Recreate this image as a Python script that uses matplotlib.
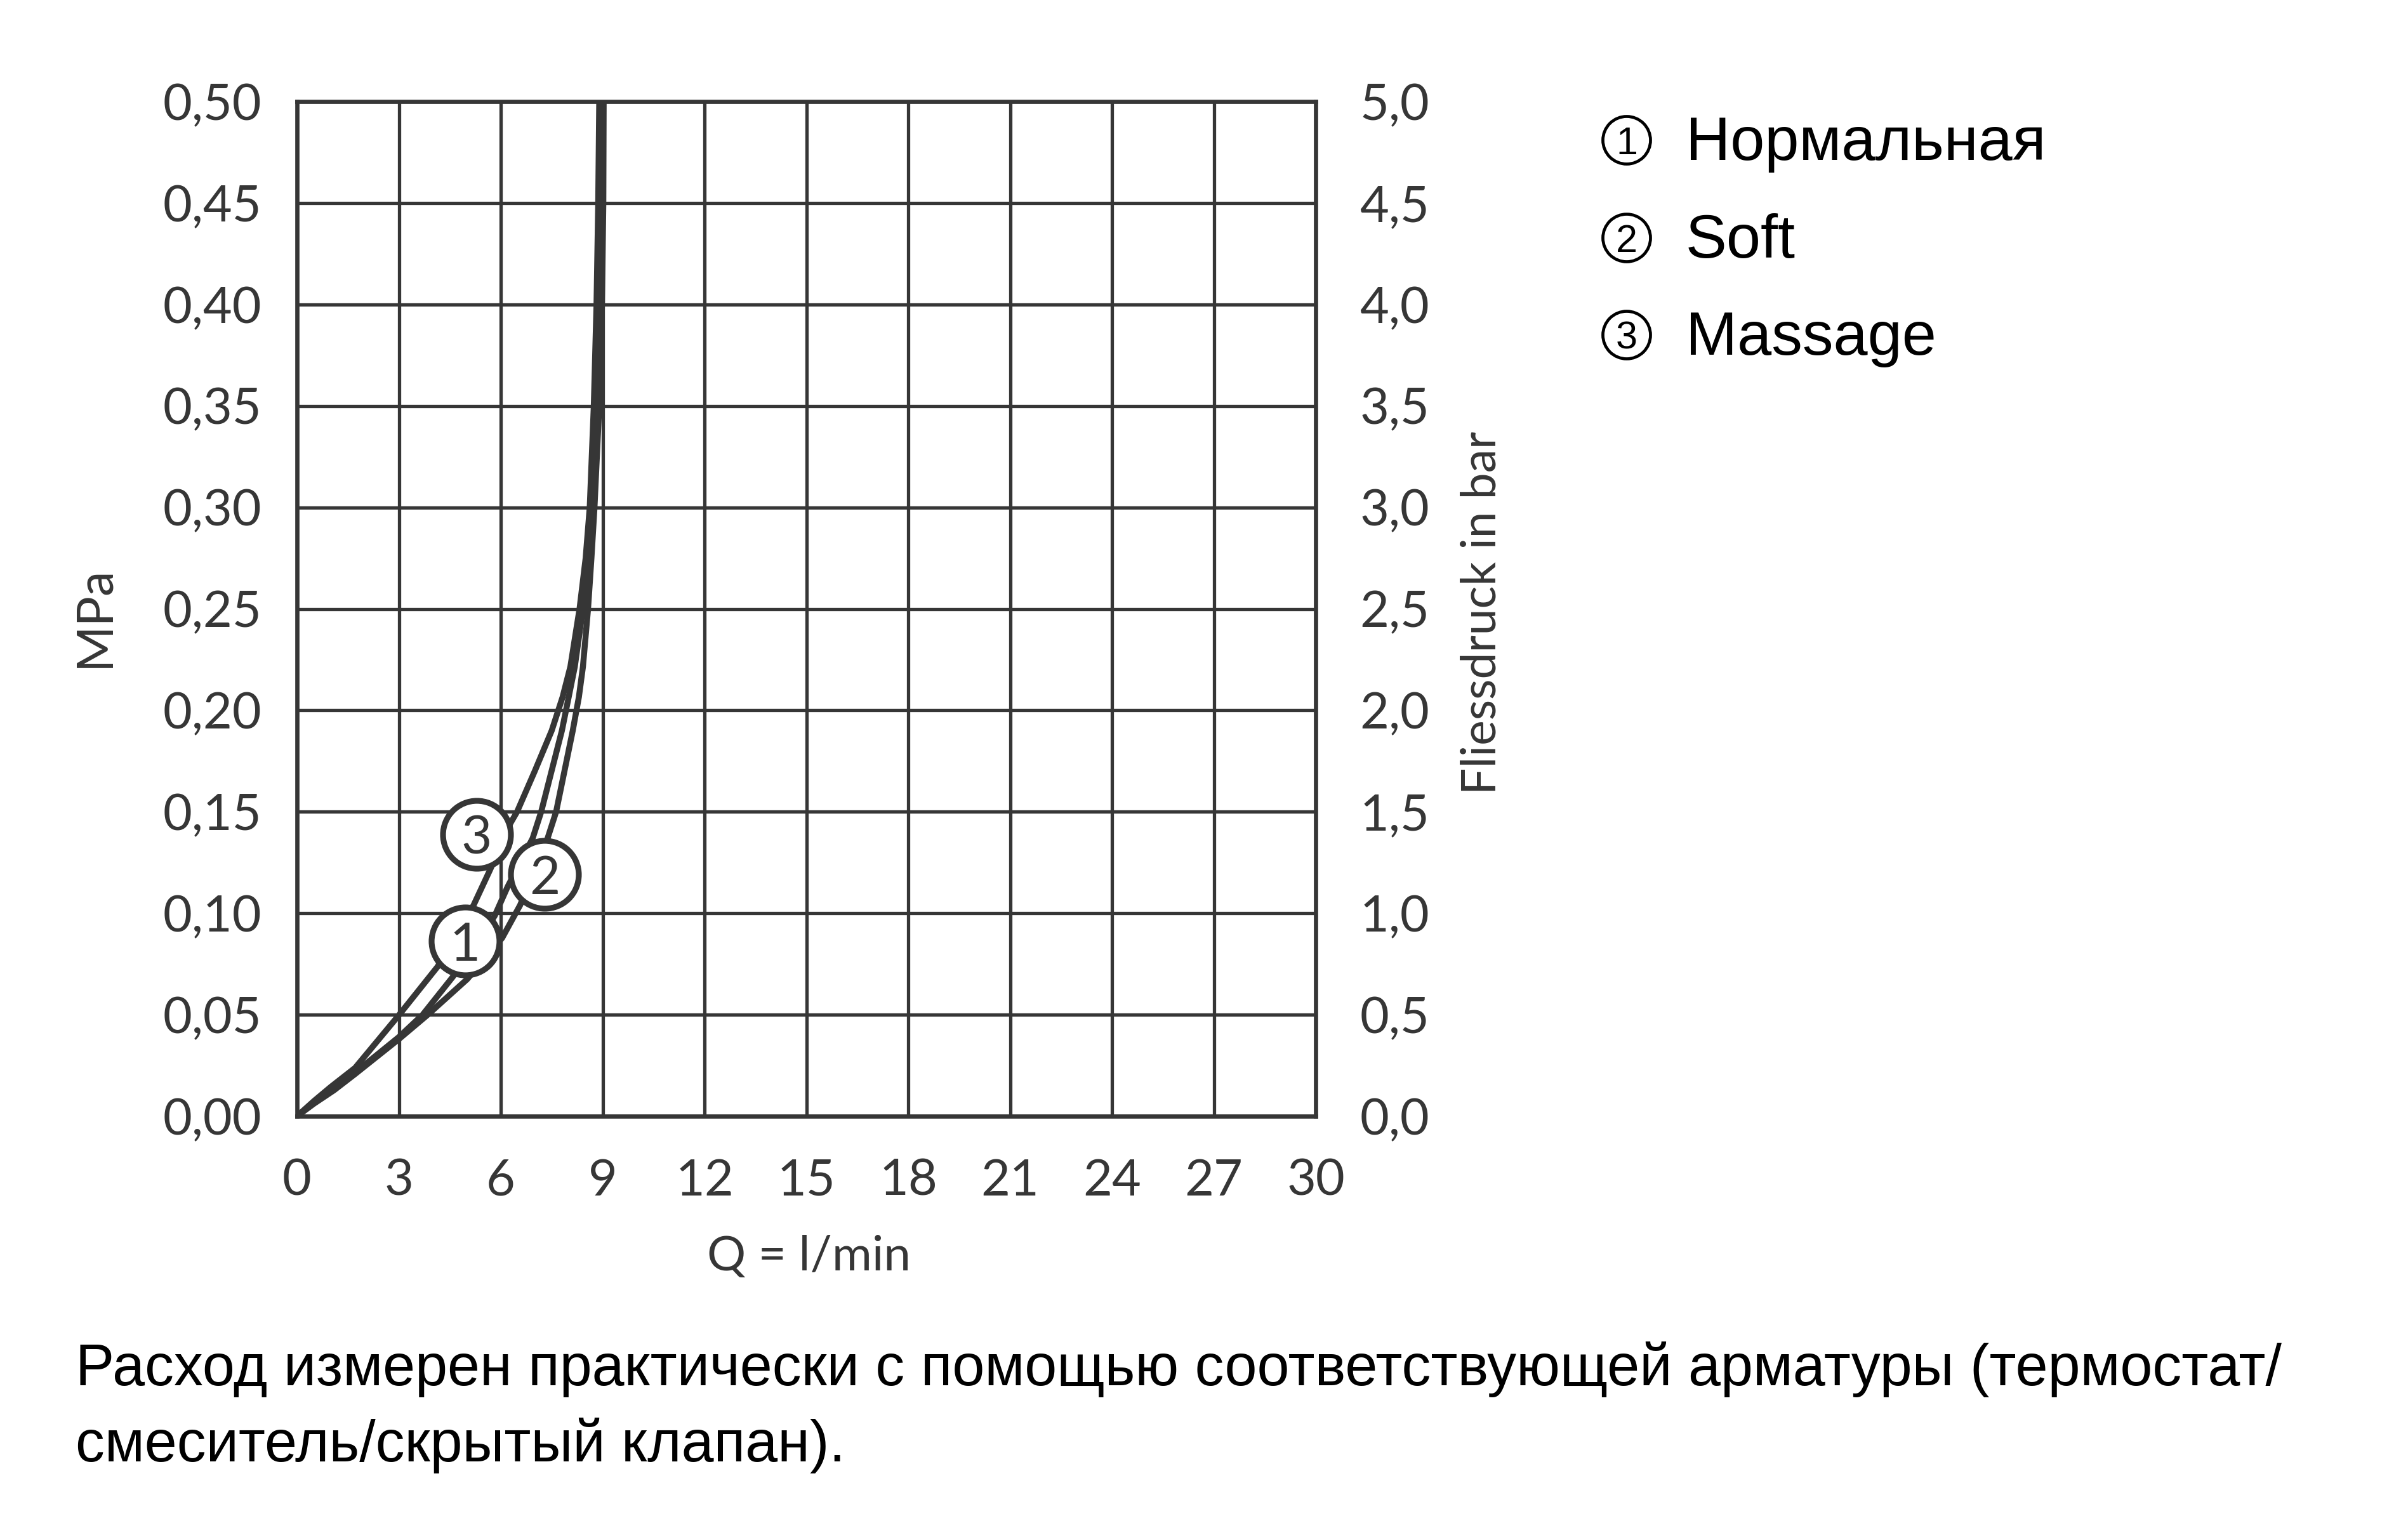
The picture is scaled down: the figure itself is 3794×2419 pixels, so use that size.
import matplotlib
matplotlib.use("Agg")
import matplotlib.pyplot as plt
from matplotlib.patches import Circle
import numpy as np

# Flow rate Q (l/min) versus flow pressure (MPa) for the three spray modes
q_normal = [0, 0.5, 1.09, 1.71, 3.0, 3.7, 4.58, 5.3, 5.82, 6.2, 6.94, 7.19, 7.8,
            8.0, 8.18, 8.42, 8.57, 8.69, 8.82, 8.9, 8.95, 8.96]
p_normal = [0, 0.0068, 0.014, 0.0215, 0.039, 0.05, 0.0685, 0.085, 0.0987, 0.113, 0.137,
            0.15, 0.19, 0.2065, 0.2215, 0.25, 0.275, 0.30, 0.35, 0.40, 0.45, 0.50]

q_soft = [0, 0.5, 1.09, 1.71, 3.0, 3.85, 5.01, 6.04, 6.57, 7.38, 7.63, 8.12,
          8.3, 8.42, 8.57, 8.67, 8.76, 8.9, 8.98, 9.02, 9.03]
p_soft = [0, 0.0062, 0.0128, 0.0208, 0.038, 0.05, 0.0675, 0.0878, 0.104, 0.137, 0.15,
          0.19, 0.2065, 0.2215, 0.25, 0.275, 0.30, 0.35, 0.40, 0.45, 0.50]

q_massage = [0, 0.5, 1.0, 1.71, 3.0, 4.14, 5.2, 5.69, 6.29, 6.48, 7.0, 7.5, 7.82,
             8.05, 8.32, 8.5, 8.62, 8.74, 8.82, 8.87, 8.9]
p_massage = [0, 0.0075, 0.0145, 0.0238, 0.0498, 0.0737, 0.104, 0.1216, 0.1445, 0.15,
             0.170, 0.19, 0.2065, 0.2215, 0.25, 0.275, 0.30, 0.35, 0.40, 0.45, 0.50]

# Numbered markers placed on the curves
marker_numbers = ["1", "2", "3"]
marker_q = [4.95, 7.29, 5.29]
marker_p = [0.0862, 0.119, 0.1388]

# Axis ticks
x_ticks = [0, 3, 6, 9, 12, 15, 18, 21, 24, 27, 30]
y_ticks_mpa = [0.00, 0.05, 0.10, 0.15, 0.20, 0.25, 0.30, 0.35, 0.40, 0.45, 0.50]
y_ticks_bar = [0.0, 0.5, 1.0, 1.5, 2.0, 2.5, 3.0, 3.5, 4.0, 4.5, 5.0]

legend_numbers = ["1", "2", "3"]
legend_names = ["Нормальная", "Soft", "Massage"]

footnote_lines = ["Расход измерен практически с помощью соответствующей арматуры (термостат/",
                  "смеситель/скрытый клапан)."]

INK = "#363636"
W, H, DPI = 3794, 2419, 100

plt.rcParams["font.family"] = ["Lato", "DejaVu Sans"]

fig = plt.figure(figsize=(W / DPI, H / DPI), dpi=DPI)
fig.patch.set_facecolor("white")

ax = fig.add_axes([468 / W, 1 - 1759 / H, (2073 - 468) / W, (1759 - 160) / H])
ax.set_xlim(0, 30)
ax.set_ylim(0, 0.5)
ax.set_xticks(x_ticks)
ax.set_yticks(y_ticks_mpa)
ax.set_xticklabels([str(v) for v in x_ticks])
ax.set_yticklabels([f"{v:.2f}".replace(".", ",") for v in y_ticks_mpa])
ax.tick_params(axis="both", length=0, labelsize=57, colors=INK)
ax.tick_params(axis="x", pad=48)
ax.tick_params(axis="y", pad=40)
ax.grid(True, color=INK, linewidth=3.8, zorder=1)
ax.set_axisbelow(True)
for s in ax.spines.values():
    s.set_color(INK)
    s.set_linewidth(4.8)
    s.set_zorder(2)

for q, p in [(q_massage, p_massage), (q_normal, p_normal), (q_soft, p_soft)]:
    ax.plot(q, p, color=INK, linewidth=6.8, solid_joinstyle="round",
            solid_capstyle="butt", zorder=3, clip_on=True)

ax.plot(marker_q, marker_p, linestyle="none", marker="o", markersize=77,
        markerfacecolor="white", markeredgecolor=INK, markeredgewidth=6.6, zorder=4)
for n, q, p in zip(marker_numbers, marker_q, marker_p):
    ax.text(q, p, n, ha="center", va="center_baseline", fontsize=60, color=INK, zorder=5)

# Secondary pressure scale in bar
ax2 = ax.twinx()
ax2.set_ylim(0, 5)
ax2.set_yticks(y_ticks_bar)
ax2.set_yticklabels([f"{v:.1f}".replace(".", ",") for v in y_ticks_bar])
ax2.tick_params(axis="y", length=0, labelsize=57, colors=INK, pad=50)
for s in ax2.spines.values():
    s.set_visible(False)

# Axis titles
fig.text(149 / W, 1 - 972 / H, "MPa", rotation=90, ha="center", va="center",
         fontsize=57, color=INK)
fig.text(2335 / W, 1 - 966 / H, "Fliessdruck in bar", rotation=90, ha="center",
         va="center", fontsize=54, color=INK)
fig.text(1275 / W, 1 - 2002 / H, "Q = l/min", ha="center", va="baseline",
         fontsize=55, color=INK)

# Legend: circled numbers with mode names
legend_rows = [221, 375, 528]
for n, name, yc in zip(legend_numbers, legend_names, legend_rows):
    cx, cy = 2563 / DPI, (H - yc) / DPI
    fig.add_artist(Circle((cx, cy), 0.375, transform=fig.dpi_scale_trans,
                          facecolor="white", edgecolor="black", linewidth=3.4))
    fig.text(2563 / W, 1 - yc / H, n, ha="center", va="center_baseline",
             fontsize=44, color="black", family=["Liberation Sans", "DejaVu Sans"])
    fig.text(2656 / W, 1 - (yc + 31) / H, name, ha="left", va="baseline",
             fontsize=70, color="black", family=["Liberation Sans", "DejaVu Sans"])

# Footnote, one line per baseline
for line, base in zip(footnote_lines, [2183, 2303]):
    fig.text(119 / W, 1 - base / H, line, ha="left", va="baseline", fontsize=66,
             color="black", family=["Liberation Sans", "DejaVu Sans"])

fig.savefig("out.png", dpi=DPI, facecolor="white")
